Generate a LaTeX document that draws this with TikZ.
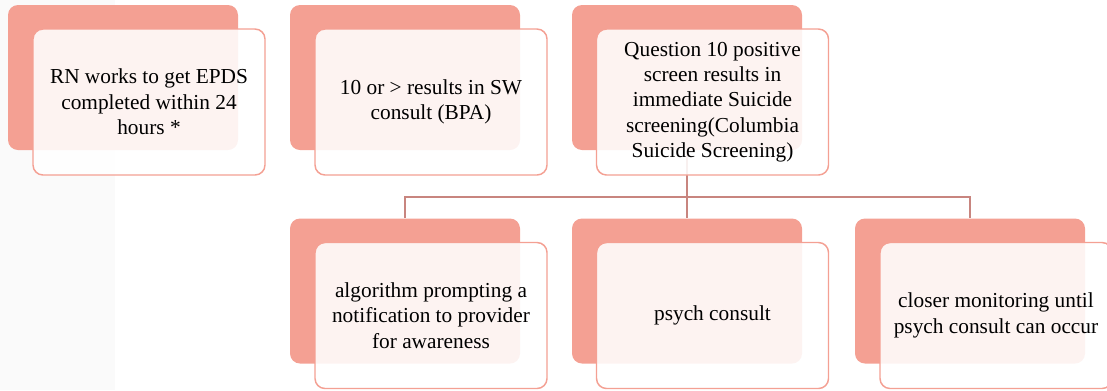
\documentclass[tikz,border=0pt]{standalone}
\usepackage{fontspec}
\setmainfont{Liberation Serif}
\definecolor{salmon}{HTML}{F4A093}
\definecolor{linkc}{HTML}{C8857F}
\definecolor{bgray}{HTML}{FAFAFA}
\begin{document}
\begin{tikzpicture}[x=0.75pt,y=-0.75pt,
  backcard/.style={fill=salmon, rounded corners=7.5pt, minimum width=172.5pt, minimum height=108.75pt, inner sep=0pt},
  frontcard/.style={draw=salmon, line width=1.1pt, fill=white, fill opacity=0.88, text opacity=1, rounded corners=7.5pt, minimum width=174pt, minimum height=109.5pt, align=center, font=\fontsize{16}{19}\selectfont, inner sep=0pt},
  link/.style={draw=linkc, line width=1.1pt}]
\useasboundingbox (0,0) rectangle (1107,390);
\fill[bgray] (0,0) rectangle (115,390);
% back cards
\node[backcard] (b1) at (123,77.5) {};
\node[backcard] (b2) at (405,77.5) {};
\node[backcard] (b3) at (687,77.5) {};
\node[backcard] (b4) at (405,291) {};
\node[backcard] (b5) at (687,291) {};
\node[backcard] (b6) at (970,291) {};
% connectors
\coordinate (hl) at (687,197);
\draw[link] (b3.south) -- (b5.north);
\draw[link] (b4.north) -- (b4.north |- hl) -| (b6.north);
% front cards
\node[frontcard] (f1) at (149,102) {RN works to get EPDS\\completed within 24\\hours *};
\node[frontcard] (f2) at (431,102) {10 or > results in SW\\consult (BPA)};
\node[frontcard] (f3) at (712.5,102) {Question 10 positive\\screen results in\\immediate Suicide\\screening(Columbia\\Suicide Screening)};
\node[frontcard] (f4) at (431,315.5) {algorithm prompting a\\notification to provider\\for awareness};
\node[frontcard] (f5) at (712.5,315.5) {psych consult};
\node[frontcard] (f6) at (996,315.5) {closer monitoring until\\psych consult can occur};
\end{tikzpicture}
\end{document}
